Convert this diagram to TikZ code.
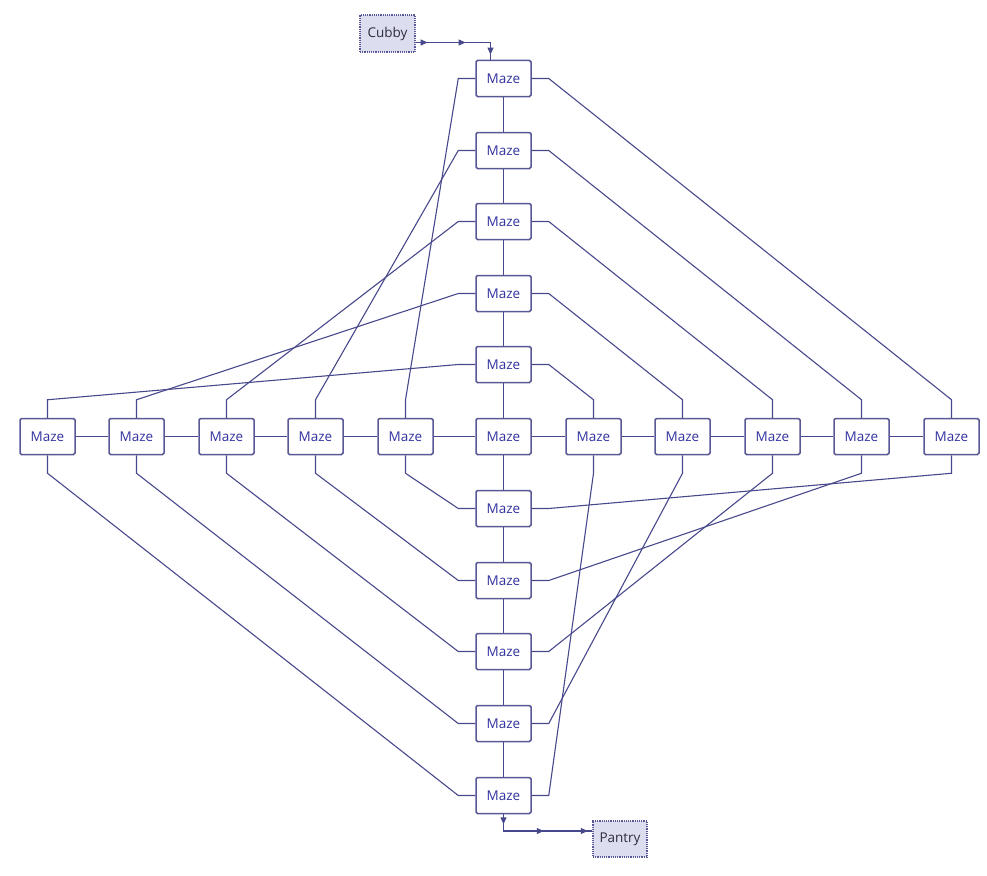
\documentclass[tikz,border=0pt]{standalone}
\usepackage{fontspec}
\setmainfont{Open Sans}
\usetikzlibrary{calc,decorations.markings,arrows.meta}
\definecolor{edgec}{RGB}{72,72,140}
\definecolor{boxc}{RGB}{88,88,150}
\definecolor{txtc}{RGB}{50,50,160}
\definecolor{termfill}{RGB}{221,221,240}
\definecolor{termtxt}{RGB}{45,45,60}
\tikzset{
  maze/.style={draw=boxc, line width=1.5pt, fill=white, rounded corners=1.5pt,
    minimum width=55pt, minimum height=36pt, inner sep=0pt, text=txtc,
    font=\fontsize{13.5}{15}\selectfont},
  term/.style={draw=boxc, line width=1.2pt, densely dotted, fill=termfill,
    minimum width=55pt, minimum height=37pt, inner sep=0pt, text=termtxt,
    font=\fontsize{13.5}{15}\selectfont},
  link/.style={draw=edgec, line width=1.1pt},
  tipat/.style={postaction={decorate, decoration={markings,
     mark=at position #1 with {\arrow{Triangle[length=7pt,width=6pt]}}}}},
}
\begin{document}
\begin{tikzpicture}[x=1pt,y=-1pt]
\useasboundingbox (0,0) rectangle (987,875);
% horizontal row
\foreach \n/\x in {h1/47.5,h2/136.5,h3/226.5,h4/315.5,h5/405.5,h7/593.5,h8/682.5,h9/772.5,h10/861.5,h11/951.5}
  \node[maze] (\n) at (\x,436.5) {Maze};
\node[maze] (c) at (503.5,436.5) {Maze};
% vertical column
\foreach \n/\y in {v1/78.5,v2/150.5,v3/221.5,v4/293.5,v5/364.5,v7/508.5,v8/580.5,v9/651.5,v10/723.5,v11/795.5}
  \node[maze] (\n) at (503.5,\y) {Maze};
\node[term] (cubby) at (387.5,33.5) {Cubby};
\node[term, minimum width=54pt, minimum height=36pt] (pantry) at (620,839) {Pantry};

% grid lines
\foreach \a/\b in {h1/h2,h2/h3,h3/h4,h4/h5,h5/c,c/h7,h7/h8,h8/h9,h9/h10,h10/h11}
  \draw[link] (\a.east) -- (\b.west);
\foreach \a/\b in {v1/v2,v2/v3,v3/v4,v4/v5,v5/c,c/v7,v7/v8,v8/v9,v9/v10,v10/v11}
  \draw[link] (\a.south) -- (\b.north);

% top-left
\foreach \v/\h in {v1/h5,v2/h4,v3/h3,v4/h2,v5/h1}
  \draw[link] (\v.west) -- ([xshift=-17pt]\v.west) -- ([yshift=18pt]\h.north) -- (\h.north);
% top-right
\foreach \v/\h in {v1/h11,v2/h10,v3/h9,v4/h8,v5/h7}
  \draw[link] (\v.east) -- ([xshift=17pt]\v.east) -- ([yshift=18pt]\h.north) -- (\h.north);
% bottom-left
\foreach \v/\h in {v11/h1,v10/h2,v9/h3,v8/h4,v7/h5}
  \draw[link] (\h.south) -- ([yshift=-18pt]\h.south) -- ([xshift=-17pt]\v.west) -- (\v.west);
% bottom-right
\foreach \v/\h in {v7/h11,v8/h10,v9/h9,v10/h8,v11/h7}
  \draw[link] (\v.east) -- ([xshift=17pt]\v.east) -- ([yshift=-18pt]\h.south) -- (\h.south);

% entry and exit
\draw[link, tipat=12pt, tipat=50pt, tipat=87pt]
  ([yshift=-9pt]cubby.east) -| ([xshift=-13pt]v1.north);
\draw[link, tipat=10pt, tipat=57pt, tipat=101pt]
  (v11.south) |- ([yshift=8pt]pantry.west);
\end{tikzpicture}
\end{document}
